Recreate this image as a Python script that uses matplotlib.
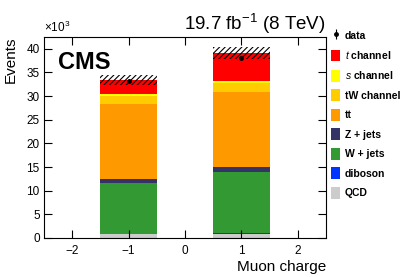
import numpy as np
import matplotlib.pyplot as plt
from matplotlib.patches import Patch

plt.rcParams['font.family'] = ['Liberation Sans', 'DejaVu Sans']
plt.rcParams['mathtext.fontset'] = 'custom'
plt.rcParams['mathtext.rm'] = 'Liberation Sans'
plt.rcParams['mathtext.it'] = 'Liberation Sans:italic'
plt.rcParams['mathtext.bf'] = 'Liberation Sans:bold'
plt.rcParams['hatch.linewidth'] = 0.8

# Muon charge bins and stacked predictions (events)
charge = [-1, 1]
qcd = [800, 850]
diboson = [100, 120]
wjets = [10800, 13080]
zjets = [800, 950]
ttbar = [15800, 15800]
tw = [1800, 2000]
schan = [300, 300]
tchan = [3100, 6000]
unc = [1050, 1350]
data = [33250, 38100]

labels = ['QCD', 'diboson', 'W + jets', 'Z + jets', 'tt', 'tW channel',
          r'$\it{s}$ channel', r'$\it{t}$ channel']
colors = ['#cccccc', '#0033ff', '#339933', '#333366', '#ff9900', '#ffcc00',
          '#ffff00', '#ff0000']
comps = [qcd, diboson, wjets, zjets, ttbar, tw, schan, tchan]

fig = plt.figure(figsize=(4.07, 2.77), dpi=100)
ax = fig.add_axes([0.108, 0.141, 0.693, 0.727])

x = np.array(charge)
bottom = np.zeros(2)
for vals, c in zip(comps, colors):
    v = np.array(vals) / 1000.0
    ax.bar(x, v, width=1.0, bottom=bottom, color=c, linewidth=0)
    bottom += v

u = np.array(unc) / 1000.0
ax.bar(x, 2 * u, width=1.0, bottom=bottom - u, fill=False, hatch='//////',
       edgecolor='black', linewidth=0)

d = np.array(data) / 1000.0
eb = ax.errorbar(x, d, yerr=np.sqrt(data) / 1000.0, fmt='o', color='black',
                 markersize=2.5, elinewidth=0.8, capsize=0)

ax.set_xlim(-2.5, 2.5)
ax.set_ylim(0, 42.6)
ax.set_xticks([-2, -1, 0, 1, 2])
ax.set_yticks([0, 5, 10, 15, 20, 25, 30, 35, 40])
ax.tick_params(direction='in', length=6, width=0.8, labelsize=8.5,
               top=True, right=True, pad=3)
ax.tick_params(axis='x', pad=5)
for s in ax.spines.values():
    s.set_linewidth(0.8)

ax.set_xlabel('Muon charge', fontsize=11, loc='right', labelpad=2)
ax.set_ylabel('Events', fontsize=11, loc='top', labelpad=6)
ax.set_title(r'19.7 fb$^{-1}$ (8 TeV)', fontsize=13.5, loc='right', pad=5)
ax.text(0.05, 0.93, 'CMS', transform=ax.transAxes, fontsize=17,
        fontweight='bold', va='top', ha='left')
ax.text(0.0, 1.01, r'$\times$10$^3$', transform=ax.transAxes, fontsize=8.5,
        va='bottom', ha='left')

handles = [eb] + [Patch(facecolor=c, linewidth=0) for c in colors[::-1]]
leg = ax.legend(handles, ['data'] + labels[::-1], loc='upper left',
                bbox_to_anchor=(1.018, 1.035), frameon=False,
                fontsize=7.5, handlelength=0.86, handleheight=1.35,
                handletextpad=0.45, labelspacing=0.75, borderpad=0,
                borderaxespad=0)
for t in leg.get_texts():
    t.set_fontweight('bold')

fig.savefig('out.png', dpi=100)
